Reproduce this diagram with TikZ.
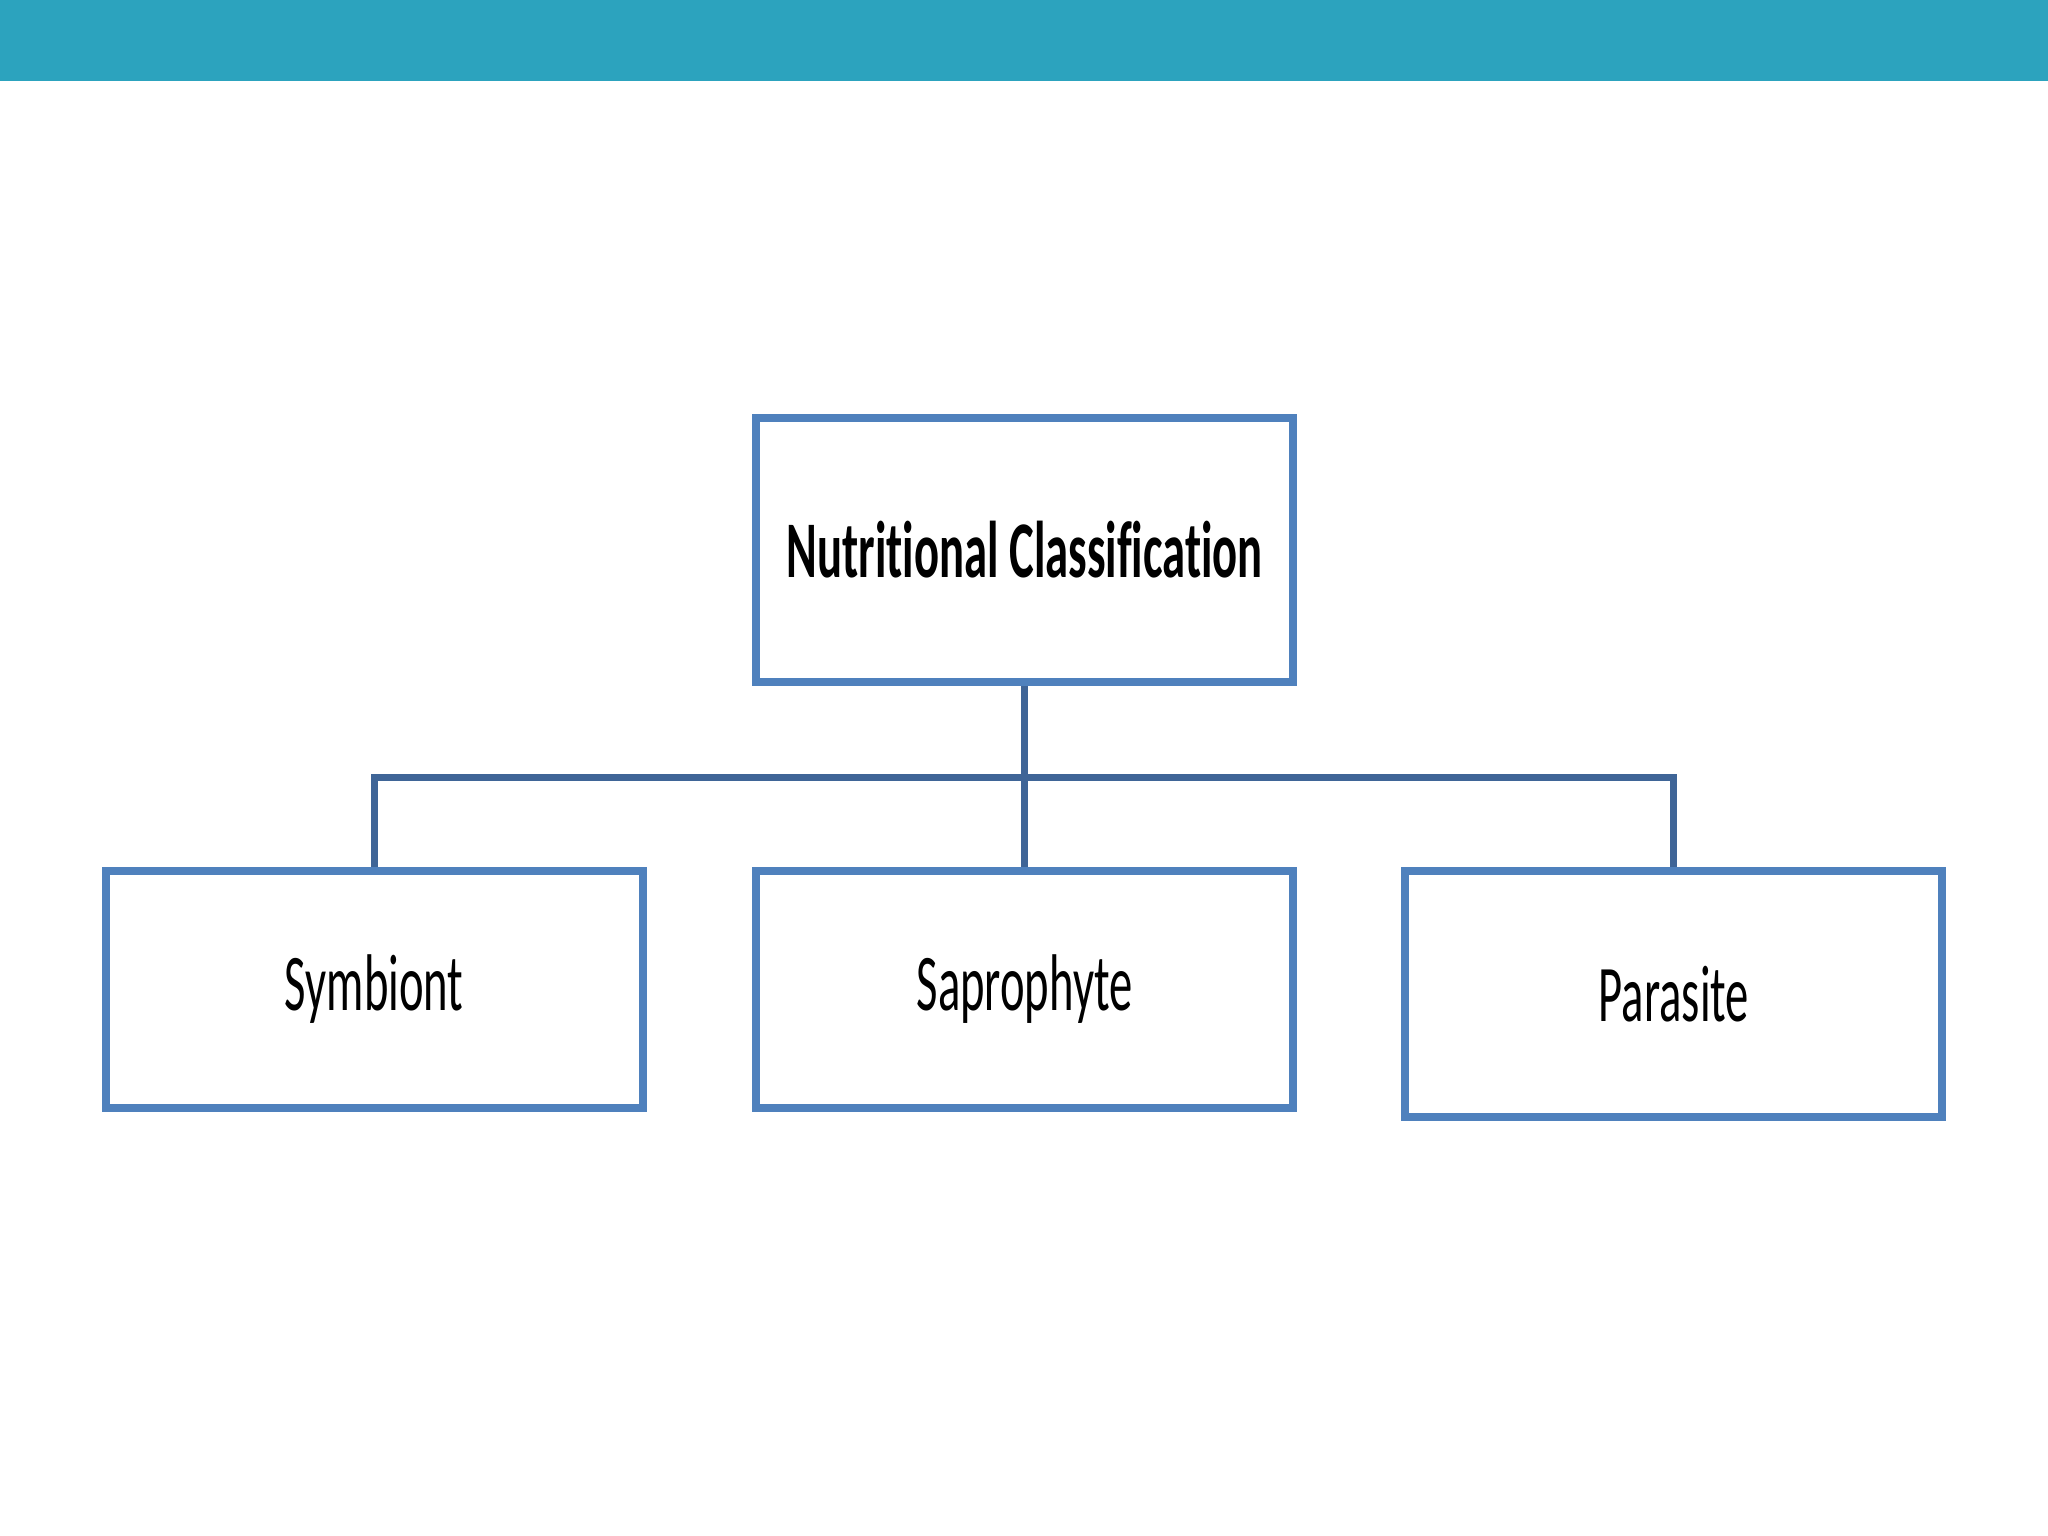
\documentclass[tikz,border=0pt]{standalone}
\usepackage{fontspec}
\setmainfont{Carlito}[Ligatures=NoCommon]
\usepackage{graphicx}
\definecolor{barteal}{HTML}{2CA3BE}
\definecolor{boxblue}{HTML}{4F81BD}
\definecolor{linkblue}{HTML}{3F6597}
\newcommand{\squeeze}[1]{\scalebox{0.58}[1]{#1}}
\tikzset{
  classbox/.style={draw=boxblue, line width=1.7pt, minimum width=4.11cm, inner sep=0pt,
    font=\fontsize{17.5}{20}\selectfont},
  link/.style={draw=linkblue, line width=1.5pt}
}
\begin{document}
\begin{tikzpicture}[x=0.01cm, y=-0.01cm]
        \useasboundingbox (0,0) rectangle (1568,1176);
        % Top bar
        \fill[barteal] (0,0) rectangle (1568,62);

        % Root
        \node[classbox, minimum height=2.02cm] (root) at (784.5,421) {\squeeze{\bfseries Nutritional Classification}};

        % Children
        \node[classbox, minimum height=1.81cm] (symb) at (286.5,757.5) {\squeeze{Symbiont}};
        \node[classbox, minimum height=1.81cm] (sapro) at (784.5,757.5) {\squeeze{Saprophyte}};
        \node[classbox, minimum height=1.88cm] (para) at (1281.5,761) {\squeeze{Parasite}};

        % Connectors
        \coordinate (hub) at (784.5,595);
        \draw[link] (root.south) -- (hub);
        \draw[link] (symb.north) |- (hub) -| (para.north);
        \draw[link] (hub) -- (sapro.north);
    \end{tikzpicture}
\end{document}
